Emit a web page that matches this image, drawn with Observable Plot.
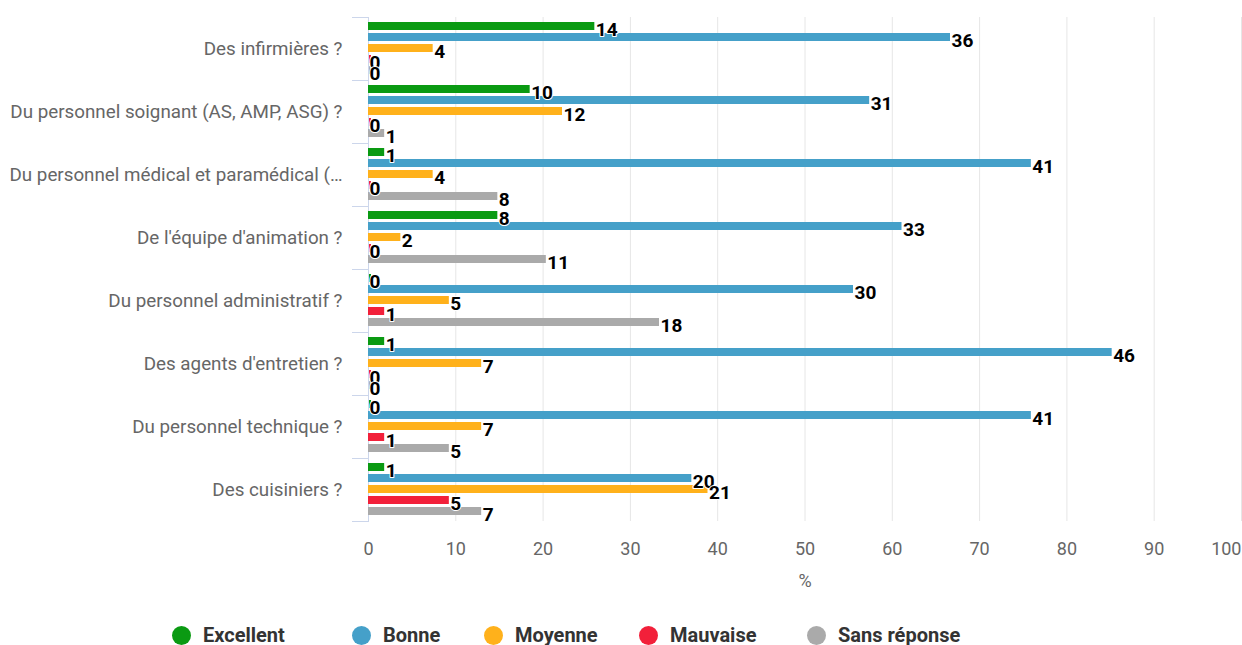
<!DOCTYPE html>
<html>
<head>
<meta charset="utf-8">
<script src="https://cdn.jsdelivr.net/npm/d3@7"></script>
<script src="https://cdn.jsdelivr.net/npm/@observablehq/plot@0.6"></script>
<style>
  html, body { margin: 0; padding: 0; background: #fff; }
  #chart svg { display: block; }
  #legend { position: relative; height: 45px; width: 1242px; font-family: Roboto, sans-serif; }
  .item { position: absolute; top: 25px; display: flex; align-items: center; height: 20px; }
  .dot { width: 19px; height: 19px; border-radius: 50%; margin-right: 12px; flex: none; }
  .lab { font-size: 20px; font-weight: 700; color: #333; white-space: nowrap; }
</style>
</head>
<body>
<div id="chart"></div>
<div id="legend"></div>
<script>
const categories = [
  "Des infirmières ?",
  "Du personnel soignant (AS, AMP, ASG) ?",
  "Du personnel médical et paramédical (…",
  "De l'équipe d'animation ?",
  "Du personnel administratif ?",
  "Des agents d'entretien ?",
  "Du personnel technique ?",
  "Des cuisiniers ?"
];
const series = ["Excellent", "Bonne", "Moyenne", "Mauvaise", "Sans réponse"];
const excellent = [14, 10, 1, 8, 0, 1, 0, 1];
const bonne = [36, 31, 41, 33, 30, 46, 41, 20];
const moyenne = [4, 12, 4, 2, 5, 7, 7, 21];
const mauvaise = [0, 0, 0, 0, 1, 0, 1, 5];
const sansReponse = [0, 1, 8, 11, 18, 0, 5, 7];
const xTicks = [0, 10, 20, 30, 40, 50, 60, 70, 80, 90, 100];
const colors = ["#0a9a12", "#45a0c9", "#ffb11b", "#f2203a", "#aaaaaa"];

const valuesBySeries = [excellent, bonne, moyenne, mauvaise, sansReponse];
const data = [];
categories.forEach((cat, i) => {
  const total = valuesBySeries.reduce((s, arr) => s + arr[i], 0);
  series.forEach((s, k) => {
    const n = valuesBySeries[k][i];
    data.push({cat, series: s, n, pct: n / total * 100});
  });
});

const W = 1242, ML = 368, MR = 1;
const plotW = W - ML - MR;

const chart = Plot.plot({
  width: W, height: 600,
  marginLeft: ML, marginRight: MR, marginTop: 15, marginBottom: 77,
  style: {fontFamily: "Roboto, sans-serif", fontSize: "18px", color: "#666", background: "#fff"},
  x: {domain: [0, 100]},
  fy: {domain: categories, padding: 0},
  y: {domain: series, paddingInner: 0.24, paddingOuter: 0.31, axis: null},
  color: {domain: series, range: colors},
  marks: [
    Plot.ruleX(xTicks.slice(1), {stroke: "#e6e6e6", strokeWidth: 1}),
    Plot.ruleX([0], {stroke: "#ccd6eb", strokeWidth: 1}),
    Plot.frame({anchor: "top", stroke: "#ccd6eb", insetLeft: -16, insetRight: plotW}),
    Plot.frame({anchor: "bottom", stroke: "#ccd6eb", insetLeft: -16, insetRight: plotW}),
    Plot.barX(data, {x: "pct", y: "series", fy: "cat", fill: "series"}),
    Plot.tickX(data, {x: 0, y: "series", fy: "cat", stroke: "series", strokeWidth: 2, dx: 1.5}),
    Plot.text(data, {x: "pct", y: "series", fy: "cat", text: d => String(d.n),
      textAnchor: "start", dx: 1, dy: 3, fontSize: 19, fontWeight: "bold",
      fill: "#000", stroke: "#fff", strokeWidth: 2, paintOrder: "stroke"}),
    Plot.axisX(xTicks.slice(0, -1), {anchor: "bottom", tickSize: 0, tickPadding: 21, fontSize: 18,
      label: "%", labelAnchor: "center", labelArrow: "none", labelOffset: 65}),
    Plot.axisX(xTicks.slice(-1), {anchor: "bottom", tickSize: 0, tickPadding: 21, fontSize: 18,
      textAnchor: "end", label: null}),
    Plot.axisFy({anchor: "left", tickSize: 0, tickPadding: 26, fontSize: 18.8, label: null})
  ]
});
document.getElementById("chart").appendChild(chart);

const legendLefts = [172, 352, 484, 639, 807];
const legend = document.getElementById("legend");
series.forEach((s, k) => {
  const it = document.createElement("div");
  it.className = "item";
  it.style.left = legendLefts[k] + "px";
  it.innerHTML = `<span class="dot" style="background:${colors[k]}"></span><span class="lab">${s}</span>`;
  legend.appendChild(it);
});
</script>
</body>
</html>
